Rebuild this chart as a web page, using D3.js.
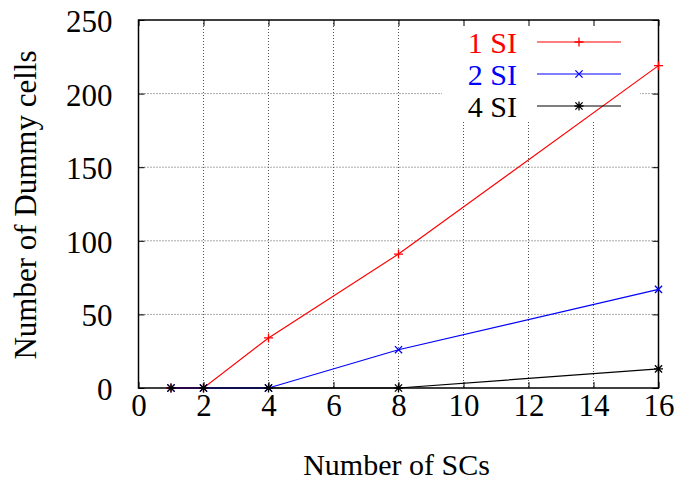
<!DOCTYPE html>
<html>
<head>
<meta charset="utf-8">
<script src="https://cdn.jsdelivr.net/npm/d3@7"></script>
<style>
  body { margin: 0; background: #fff; }
  svg text { font-family: "Liberation Serif", "Times New Roman", serif !important; }
</style>
</head>
<body>
<div id="chart"></div>
<script>
// data
var scs = [1, 2, 4, 8, 16];
var si1 = [0, 0, 34, 91, 219];
var si2 = [0, 0, 0, 26, 67];
var si4 = [0, 0, 0, 0, 13];
var seriesNames = ["1 SI", "2 SI", "4 SI"];
var seriesColors = ["#ff0000", "#0000ff", "#000000"];
var seriesMarks = ["plus", "cross", "star"];
var xTicks = [0, 2, 4, 6, 8, 10, 12, 14, 16];
var yTicks = [0, 50, 100, 150, 200, 250];

var W = 678, H = 487;
var margin = {top: 20, right: 19.5, bottom: 99, left: 138.5},
    width = W - margin.left - margin.right,
    height = H - margin.top - margin.bottom;
var serif = "Liberation Serif";

var x = d3.scaleLinear().domain([0, 16]).range([0, width]);
var y = d3.scaleLinear().domain([0, 250]).range([height, 0]);

var svg = d3.select("#chart").append("svg")
    .attr("width", W)
    .attr("height", H)
    .attr("font-family", serif)
  .append("g")
    .attr("transform", "translate(" + margin.left + "," + margin.top + ")");

// grid (dotted)
var grid = svg.append("g");
grid.selectAll(".gx").data(xTicks.filter(function(d) { return d > 0 && d < 16; }))
  .enter().append("line")
    .attr("x1", function(d) { return x(d); })
    .attr("x2", function(d) { return x(d); })
    .attr("y1", 0).attr("y2", height)
    .style("stroke", "#555").style("stroke-width", 1)
    .style("stroke-dasharray", "1,2");
grid.selectAll(".gy").data(yTicks.filter(function(d) { return d > 0 && d < 250; }))
  .enter().append("line")
    .attr("y1", function(d) { return y(d); })
    .attr("y2", function(d) { return y(d); })
    .attr("x1", 0).attr("x2", width)
    .style("stroke", "#555").style("stroke-width", 1)
    .style("stroke-dasharray", "1,2");

// opaque key box hides the grid
svg.append("rect")
    .attr("x", 442 - margin.left).attr("y", 1)
    .attr("width", 198).attr("height", 101)
    .style("fill", "#fff");

// axes: gnuplot style, ticks inward and mirrored
var tickLen = 6;
var axB = svg.append("g").attr("transform", "translate(0," + height + ")")
    .call(d3.axisBottom(x).tickValues(xTicks).tickSize(-tickLen).tickPadding(tickLen + 16));
var axT = svg.append("g")
    .call(d3.axisTop(x).tickValues(xTicks).tickSize(-tickLen).tickFormat(""));
var axL = svg.append("g")
    .call(d3.axisLeft(y).tickValues(yTicks).tickSize(-tickLen).tickPadding(tickLen + 20));
var axR = svg.append("g").attr("transform", "translate(" + width + ",0)")
    .call(d3.axisRight(y).tickValues(yTicks).tickSize(-tickLen).tickFormat(""));

[axB, axT, axL, axR].forEach(function(a) {
  a.attr("font-family", serif).attr("font-size", 31);
  a.select(".domain").remove();
  a.selectAll(".tick line").style("stroke", "#000").style("stroke-width", 1);
  a.selectAll("text").style("fill", "#000");
});
axB.selectAll("text").attr("dy", "0.2em");
axL.selectAll("text").attr("dy", "0.37em");

svg.append("rect")
    .attr("width", width).attr("height", height)
    .style("fill", "none").style("stroke", "#000").style("stroke-width", 1.5);

// marker path
function markPath(type, cx, cy) {
  var s = 4.5, p = "";
  if (type === "plus" || type === "star")
    p += "M" + (cx - s) + "," + cy + "H" + (cx + s) + "M" + cx + "," + (cy - s) + "V" + (cy + s);
  if (type === "cross" || type === "star")
    p += "M" + (cx - s * 0.8) + "," + (cy - s * 0.8) + "L" + (cx + s * 0.8) + "," + (cy + s * 0.8) +
         "M" + (cx - s * 0.8) + "," + (cy + s * 0.8) + "L" + (cx + s * 0.8) + "," + (cy - s * 0.8);
  return p;
}

var line = d3.line()
    .x(function(d) { return x(d[0]); })
    .y(function(d) { return y(d[1]); });

var allSeries = [si1, si2, si4];
var keyY = [42, 74, 106];

allSeries.forEach(function(vals, i) {
  var pts = scs.map(function(s, j) { return [s, vals[j]]; });
  var col = seriesColors[i];
  svg.append("path")
      .datum(pts)
      .attr("d", line)
      .style("fill", "none").style("stroke", col).style("stroke-width", 1.2);
  svg.selectAll(".m" + i).data(pts).enter().append("path")
      .attr("d", function(d) { return markPath(seriesMarks[i], x(d[0]), y(d[1])); })
      .style("stroke", col).style("stroke-width", 1.3).style("fill", "none");

  // key entry
  var ky = keyY[i] - margin.top;
  svg.append("text")
      .attr("x", 517 - margin.left).attr("y", ky)
      .attr("dy", "0.35em")
      .attr("text-anchor", "end")
      .attr("font-family", serif)
      .attr("font-size", 30)
      .style("fill", col)
      .text(seriesNames[i]);
  svg.append("line")
      .attr("x1", 537 - margin.left).attr("x2", 621 - margin.left)
      .attr("y1", ky).attr("y2", ky)
      .style("stroke", col).style("stroke-width", 1.2);
  svg.append("path")
      .attr("d", markPath(seriesMarks[i], 579 - margin.left, ky))
      .style("stroke", col).style("stroke-width", 1.3).style("fill", "none");
});

// axis titles
svg.append("text")
    .attr("x", width / 2 - 2).attr("y", 475 - margin.top)
    .attr("text-anchor", "middle")
    .attr("font-family", serif)
    .attr("font-size", 30)
    .style("fill", "#000")
    .text("Number of SCs");

svg.append("text")
    .attr("transform", "translate(" + (36 - margin.left) + "," + (205 - margin.top) + ") rotate(-90)")
    .attr("text-anchor", "middle")
    .attr("font-family", serif)
    .attr("font-size", 31)
    .style("fill", "#000")
    .text("Number of Dummy cells");
</script>
</body>
</html>
